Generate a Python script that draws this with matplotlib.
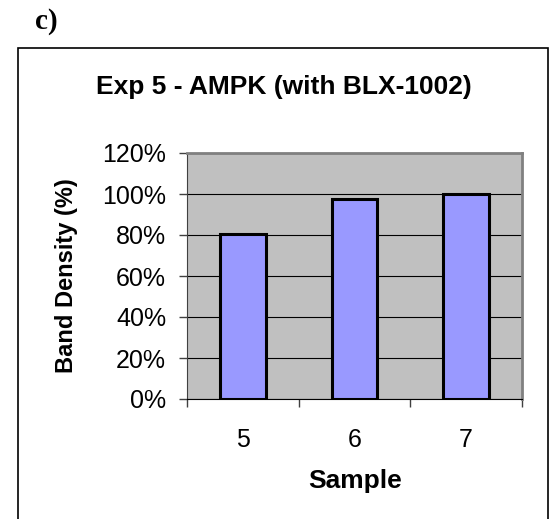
import matplotlib
matplotlib.use('Agg')
import matplotlib.pyplot as plt
from matplotlib.patches import Rectangle
from matplotlib.ticker import PercentFormatter
import numpy as np

samples = ['5', '6', '7']
band_density = [80.3, 97.8, 100.0]
y_ticks = [0, 20, 40, 60, 80, 100, 120]

plt.rcParams['font.family'] = ['Liberation Sans', 'DejaVu Sans']

W, H = 549, 519
fig = plt.figure(figsize=(W / 100, H / 100), dpi=100)

# outer chart frame (runs off the bottom of the picture)
fig.patches.append(Rectangle((18 / W, -0.05), (548 - 18) / W, 1.05 - 48 / H,
                             transform=fig.transFigure, fill=False,
                             edgecolor='black', linewidth=1.2))

fig.text(35 / W, 1 - 22 / H, 'c)', family='Liberation Serif', fontweight='bold',
         fontsize=21, ha='left', va='center')

ax = fig.add_axes([187 / W, 1 - 399 / H, (522 - 187) / W, (399 - 153) / H])
ax.set_facecolor('#C0C0C0')

x = np.arange(len(samples))
ax.bar(x, band_density, width=0.41, color='#9999FF', edgecolor='black',
       linewidth=2.2, zorder=3)

ax.set_xlim(-0.5, len(samples) - 0.5)
ax.set_ylim(0, 120)
ax.set_yticks(y_ticks)
ax.yaxis.set_major_formatter(PercentFormatter(decimals=0))
ax.yaxis.grid(True, color='black', linewidth=0.8, zorder=1)
ax.set_axisbelow(True)

ax.set_xticks(x)
ax.set_xticklabels(samples)
ax.set_xticks(np.arange(-0.5, len(samples)), minor=True)
ax.tick_params(axis='x', which='major', length=0, pad=21, labelsize=18)
ax.tick_params(axis='x', which='minor', length=6, width=1, color='#404040')
ax.tick_params(axis='y', length=6, width=1, color='#404040', pad=9, labelsize=18)

for side in ['top', 'right']:
    ax.spines[side].set_color('#808080')
    ax.spines[side].set_linewidth(2)
ax.spines['left'].set_color('#404040')
ax.spines['bottom'].set_color('black')

fig.text(284 / W, 1 - 87 / H, 'Exp 5 - AMPK (with BLX-1002)', fontweight='bold',
         fontsize=19, ha='center', va='center')
fig.text(355 / W, 1 - 481 / H, 'Sample', fontweight='bold', fontsize=19,
         ha='center', va='center')
fig.text(67 / W, 1 - 276 / H, 'Band Density (%)', fontweight='bold', fontsize=17,
         rotation=90, ha='center', va='center')

fig.savefig('out.png', dpi=100)
